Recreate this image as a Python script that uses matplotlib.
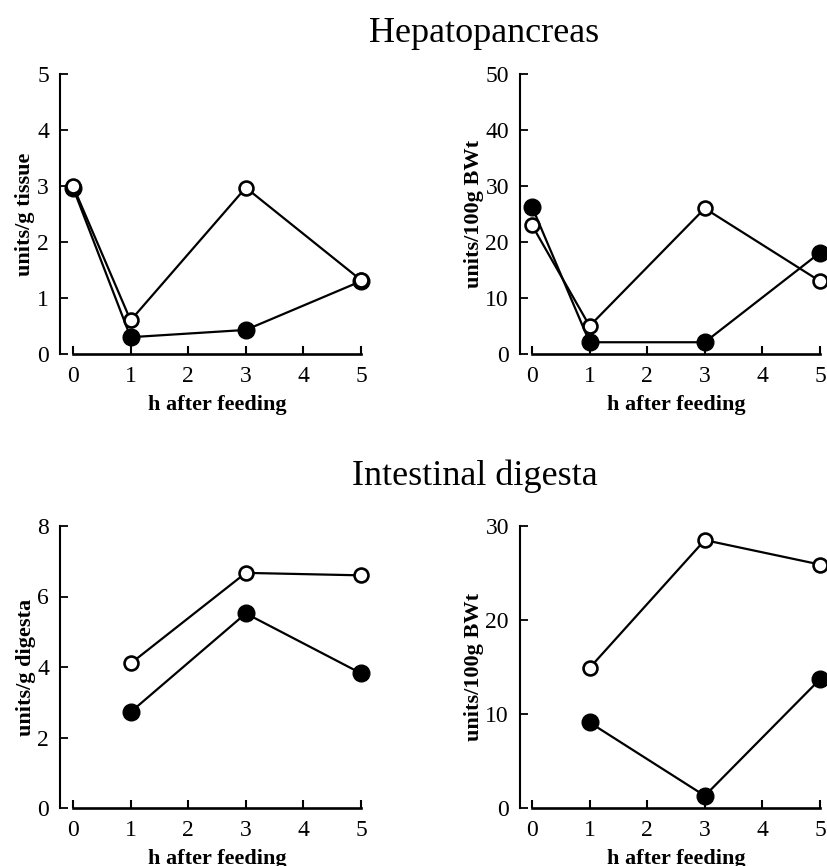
import matplotlib
matplotlib.use("Agg")
import matplotlib.pyplot as plt

plt.rcParams['font.family'] = ['Liberation Serif', 'DejaVu Serif']

# ---- data ----
hours_hep = [0, 1, 3, 5]
hep_tissue_open = [3.0, 0.6, 2.97, 1.32]
hep_tissue_filled = [2.97, 0.30, 0.43, 1.30]
hep_bwt_open = [23.0, 5.0, 26.0, 13.0]
hep_bwt_filled = [26.3, 2.1, 2.1, 18.1]

hours_int = [1, 3, 5]
int_digesta_open = [4.1, 6.67, 6.6]
int_digesta_filled = [2.72, 5.52, 3.82]
int_bwt_open = [14.9, 28.5, 25.9]
int_bwt_filled = [9.1, 1.3, 13.7]

x_ticks = [0, 1, 2, 3, 4, 5]
title_top = "Hepatopancreas"
title_bottom = "Intestinal digesta"
xlabel = "h after feeding"

W, H = 828, 866
fig = plt.figure(figsize=(W / 100, H / 100), dpi=100)


def make_ax(left_px, x0_px, x5_px, top_px, bottom_px):
    unit = (x5_px - x0_px) / 5.0
    a = (x0_px - left_px) / unit
    ax = fig.add_axes([left_px / W, 1 - bottom_px / H,
                       (x5_px - left_px) / W, (bottom_px - top_px) / H])
    ax.set_xlim(-a, 5.0)
    return ax, a


panels = [
    # left, x0, x5, top, bottom, xdata, open, filled, ymax, yticks, ylabel, ylabel x
    (60, 73, 361, 74, 354, hours_hep, hep_tissue_open, hep_tissue_filled,
     5, [0, 1, 2, 3, 4, 5], "units/g tissue", 25),
    (520, 532, 820, 74, 354, hours_hep, hep_bwt_open, hep_bwt_filled,
     50, [0, 10, 20, 30, 40, 50], "units/100g BWt", 474),
    (60, 73, 361, 526, 808, hours_int, int_digesta_open, int_digesta_filled,
     8, [0, 2, 4, 6, 8], "units/g digesta", 26),
    (520, 532, 820, 526, 808, hours_int, int_bwt_open, int_bwt_filled,
     30, [0, 10, 20, 30], "units/100g BWt", 474),
]

for (left, x0, x5, top, bottom, xd, yo, yf, ymax, yt, ylab, ylab_x) in panels:
    ax, a = make_ax(left, x0, x5, top, bottom)
    ax.set_ylim(0, ymax)
    ax.plot(xd, yf, color='black', lw=1.6, marker='o', ms=12,
            mfc='black', mec='black', mew=1.0, clip_on=False, zorder=3)
    ax.plot(xd, yo, color='black', lw=1.6, marker='o', ms=10,
            mfc='white', mec='black', mew=1.9, clip_on=False, zorder=4)
    for s in ['top', 'right']:
        ax.spines[s].set_visible(False)
    ax.spines['left'].set_linewidth(1.5)
    ax.spines['bottom'].set_linewidth(1.9)
    ax.spines['bottom'].set_bounds(0, 5)
    ax.set_xticks(x_ticks)
    ax.set_yticks(yt)
    ax.tick_params(axis='x', direction='in', length=6, width=1.5,
                   labelsize=17, pad=9)
    ax.tick_params(axis='y', direction='in', length=6, width=1.3,
                   labelsize=17, pad=8)
    ax.set_ylabel(ylab, fontsize=16, fontweight='bold', va='center', ha='center')
    ax.yaxis.set_label_coords((ylab_x - left) / (x5 - left), 0.5)
    ax.set_xlabel(xlabel, fontsize=16, fontweight='bold', va='center', ha='center')
    xc = (((x0 + x5) / 2.0) - left) / (x5 - left)
    ax.xaxis.set_label_coords(xc, -51.0 / (bottom - top))

fig.text(484 / W, 1 - 42 / H, title_top, ha='center', va='baseline', fontsize=26)
fig.text(475 / W, 1 - 485 / H, title_bottom, ha='center', va='baseline', fontsize=26)

fig.savefig("out.png", dpi=100)
